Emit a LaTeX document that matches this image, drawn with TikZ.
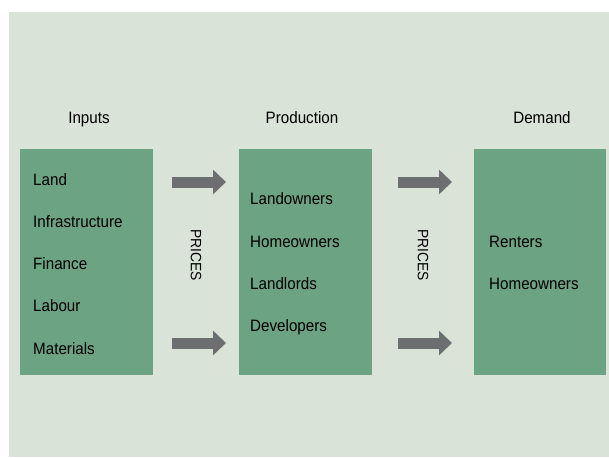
\documentclass[tikz,border=0pt]{standalone}
\usepackage{fontspec}
\setmainfont{Liberation Sans}[FakeStretch=0.92]
\usetikzlibrary{arrows.meta}
\definecolor{panel}{RGB}{217,227,215}
\definecolor{boxgreen}{RGB}{107,163,131}
\definecolor{arrowgray}{RGB}{109,110,112}

\begin{document}
\begin{tikzpicture}[x=1pt,y=-1pt]

\useasboundingbox (0,0) rectangle (609,457);
\fill[panel] (9,12) rectangle (609,457);

% set style here
\tikzstyle{box}=[fill=boxgreen,minimum width=133pt,minimum height=226pt,inner sep=0pt]
\tikzstyle{item}=[anchor=base west,inner sep=0pt,font=\fontsize{16.5}{18}\selectfont]
\tikzstyle{head}=[anchor=base,inner sep=0pt,font=\fontsize{16.5}{18}\selectfont]
\tikzstyle{prices}=[rotate=-90,inner sep=0pt,font=\fontsize{15}{18}\selectfont]
\tikzstyle{flow}=[draw=arrowgray,line width=11pt,-{Triangle[length=13pt,width=24pt]}]
%
\node (inputs) at (86.5, 262) [box] {};
\node (prod) at (305.5, 262) [box] {};
\node (demand) at (540, 262) [box,minimum width=132pt] {};

\node (hin) at (89, 124) [head] {Inputs};
\node (hprod) at (302, 124) [head] {Production};
\node (hdem) at (542, 124) [head] {Demand};

\node (i0) at (33, 185) [item] {Land};
\node (i1) at (33, 227) [item] {Infrastructure};
\node (i2) at (33, 269) [item] {Finance};
\node (i3) at (33, 311) [item] {Labour};
\node (i4) at (33, 354) [item] {Materials};

\node (p0) at (250, 204) [item] {Landowners};
\node (p1) at (250, 247) [item] {Homeowners};
\node (p2) at (250, 289) [item] {Landlords};
\node (p3) at (250, 331) [item] {Developers};

\node (d0) at (489, 247) [item] {Renters};
\node (d1) at (489, 289) [item] {Homeowners};

\node (pr0) at (196, 255) [prices] {PRICES};
\node (pr1) at (423, 255) [prices] {PRICES};

\coordinate (a0) at (172, 182); \coordinate (b0) at (226, 182);
\coordinate (a1) at (172, 343); \coordinate (b1) at (226, 343);
\coordinate (a2) at (398, 182); \coordinate (b2) at (452, 182);
\coordinate (a3) at (398, 343); \coordinate (b3) at (452, 343);
\draw[flow] (a0) -- (b0);
\draw[flow] (a1) -- (b1);
\draw[flow] (a2) -- (b2);
\draw[flow] (a3) -- (b3);

\end{tikzpicture}
\end{document}
